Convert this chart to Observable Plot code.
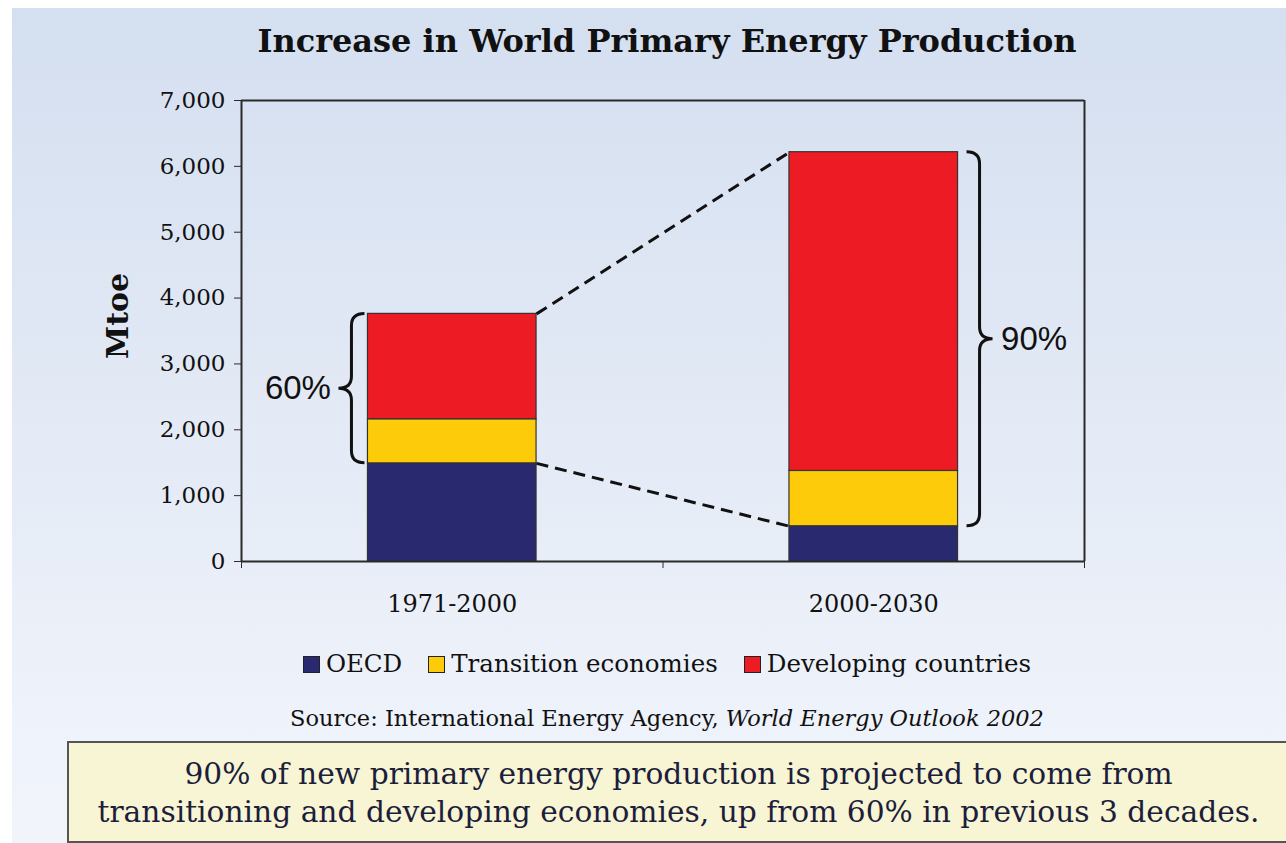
<!DOCTYPE html>
<html>
<head>
<meta charset="utf-8">
<script src="https://cdn.jsdelivr.net/npm/d3@7"></script>
<script src="https://cdn.jsdelivr.net/npm/@observablehq/plot@0.6"></script>
<style>
  html, body { margin: 0; padding: 0; background: #ffffff; }
  #page { position: relative; width: 1286px; height: 843px; overflow: hidden; background: #ffffff; }
  #panel { position: absolute; left: 12px; top: 8px; right: 0; bottom: 0;
           background: linear-gradient(#d4dff0 0%, #e2e9f5 45%, #eef2fa 85%, #f1f4fb 100%); }
  .centered { position: absolute; left: 48px; width: 1238px; text-align: center; color: #111; }
  #title { top: 21px; font: bold 32px "DejaVu Serif", serif; line-height: 40px; }
  #chart { position: absolute; left: 0; top: 70px; }
  #legend { top: 650px; font: 24.5px "DejaVu Serif", serif; line-height: 28px;
            display: flex; justify-content: center; align-items: center; }
  .item { display: flex; align-items: center; margin: 0 13px; }
  .swatch { width: 15px; height: 15px; border: 1.5px solid #222; margin-right: 6px; }
  #source { top: 704px; font: 22.5px "DejaVu Serif", serif; line-height: 28px; }
  #note { position: absolute; left: 67px; top: 741px; width: 1240px; height: 98px;
          background: #f7f5d3; border: 2px solid #555; box-sizing: content-box;
          font: 29.7px "DejaVu Serif", serif; line-height: 38px; color: #1d1d3c; }
  #note div { position: absolute; left: 0; width: 1219px; text-align: center; }
</style>
</head>
<body>
<div id="page">
  <div id="panel"></div>
  <div id="title" class="centered">Increase in World Primary Energy Production</div>
  <div id="chart"></div>
  <div id="legend" class="centered"></div>
  <div id="source" class="centered">Source: International Energy Agency, <i>World Energy Outlook 2002</i></div>
  <div id="note">
    <div style="top: 12px">90% of new primary energy production is projected to come from</div>
    <div style="top: 50px">transitioning and developing economies, up from 60% in previous 3 decades.</div>
  </div>
</div>
<script>
// Increase in world primary energy production by region (Mtoe)
const periods = ["1971-2000", "2000-2030"];
const series = ["OECD", "Transition economies", "Developing countries"];
const colors = ["#29296f", "#fdcb0a", "#ed1c24"];
const oecd = [1490, 535];
const transition = [670, 840];
const developing = [1600, 4840];
const shares = ["60%", "90%"];
const yTicks = [0, 1000, 2000, 3000, 4000, 5000, 6000, 7000];

// Each period occupies one unit of x; bars are centred in it
const barHalf = 0.2;
const values = [oecd, transition, developing];
const rects = [];
periods.forEach((p, i) => {
  let base = 0;
  series.forEach((s, k) => {
    const v = values[k][i];
    rects.push({period: p, series: s, x1: i + 0.5 - barHalf, x2: i + 0.5 + barHalf, y1: base, y2: base + v});
    base += v;
  });
});
const totals = periods.map((p, i) => oecd[i] + transition[i] + developing[i]);

// Dashed connectors between the two bars: total tops and OECD tops
const connectors = [
  {x1: 0.5 + barHalf, y1: totals[0], x2: 1.5 - barHalf, y2: totals[1]},
  {x1: 0.5 + barHalf, y1: oecd[0], x2: 1.5 - barHalf, y2: oecd[1]}
];

// Curly braces spanning the non-OECD share of each bar
const braceDepth = 13;
const braces = [
  {edge: 0.5 - barHalf, gap: 3, dir: -1, lo: oecd[0], hi: totals[0], label: shares[0]},
  {edge: 1.5 + barHalf, gap: 9, dir: 1, lo: oecd[1], hi: totals[1], label: shares[1]}
];

function braceMark(b) {
  return (index, scales) => {
    const x0 = scales.x(b.edge) + b.gap * b.dir;
    const ya = scales.y(b.hi), yb = scales.y(b.lo), ym = (ya + yb) / 2;
    const sp = x0 + braceDepth * b.dir, pt = x0 + 2 * braceDepth * b.dir;
    const r = 12;
    const p = d3.path();
    p.moveTo(x0, ya);
    p.quadraticCurveTo(sp, ya, sp, ya + r);
    p.lineTo(sp, ym - r);
    p.quadraticCurveTo(sp, ym, pt, ym);
    p.quadraticCurveTo(sp, ym, sp, ym + r);
    p.lineTo(sp, yb - r);
    p.quadraticCurveTo(sp, yb, x0, yb);
    return d3.create("svg:path")
      .attr("d", p.toString())
      .attr("fill", "none")
      .attr("stroke", "#111")
      .attr("stroke-width", 3)
      .node();
  };
}

function braceLabel(b) {
  return Plot.text([b], {
    x: "edge", y: d => (d.lo + d.hi) / 2, text: "label",
    dx: b.dir * (b.gap + 2 * braceDepth + 8),
    textAnchor: b.dir < 0 ? "end" : "start",
    fontFamily: "Liberation Sans", fontSize: 33, fill: "#111"
  });
}

const axisColor = "#2a2a2a";

const chart = Plot.plot({
  width: 1286,
  height: 551,
  marginLeft: 241,
  marginRight: 202,
  marginTop: 30,
  marginBottom: 60,
  x: {domain: [0, 2]},
  y: {domain: [0, 7000]},
  color: {domain: series, range: colors},
  style: {background: "transparent", fontFamily: "DejaVu Serif", fontSize: "23px", color: "#111"},
  marks: [
    Plot.rect(rects, {x1: "x1", x2: "x2", y1: "y1", y2: "y2", fill: "series", stroke: "#333", strokeWidth: 1.2}),
    Plot.link(connectors, {x1: "x1", y1: "y1", x2: "x2", y2: "y2", stroke: "#111", strokeWidth: 3, strokeDasharray: "12,7"}),
    ...braces.map(braceMark),
    ...braces.map(braceLabel),
    Plot.ruleY([0, 7000], {stroke: axisColor, strokeWidth: 2}),
    Plot.ruleX([0, 2], {stroke: axisColor, strokeWidth: 2}),
    Plot.axisY({ticks: yTicks, tickFormat: d3.format(","), tickSize: 7, tickPadding: 9, label: null, fontSize: 23, stroke: axisColor}),
    Plot.axisX({ticks: [0, 1, 2], tickSize: 7, tickFormat: () => "", label: null, stroke: axisColor}),
    Plot.axisX({ticks: [0.5, 1.5], tickSize: 0, tickPadding: 33, tickFormat: d => periods[Math.floor(d)], label: null, fontSize: 24}),
    Plot.text(["Mtoe"], {frameAnchor: "left", dx: -123, dy: 28, rotate: -90, fontSize: 30, fontWeight: "bold", fill: "#111"})
  ]
});
document.getElementById("chart").appendChild(chart);

// Legend built from the series and colour lists
const legend = document.getElementById("legend");
series.forEach((s, k) => {
  const item = document.createElement("span");
  item.className = "item";
  const sw = document.createElement("span");
  sw.className = "swatch";
  sw.style.background = colors[k];
  item.appendChild(sw);
  item.appendChild(document.createTextNode(s));
  legend.appendChild(item);
});
</script>
</body>
</html>
